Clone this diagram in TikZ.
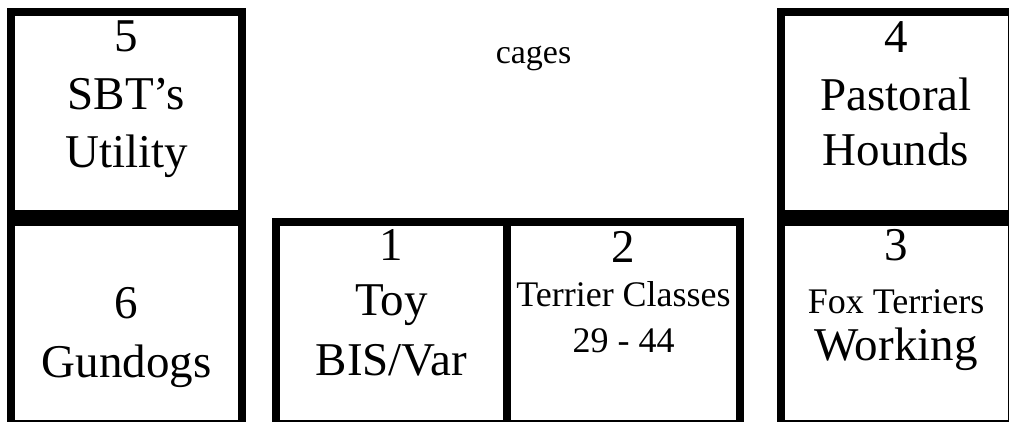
\documentclass[tikz,border=0pt]{standalone}
\usepackage{fontspec}
\setmainfont{Liberation Serif}
\usepackage{tikz}

\newcommand{\classfont}{\fontsize{36}{44}\selectfont}

\tikzset{
    pen/.style={draw=black, line width=8pt, minimum width=231pt, minimum height=202pt, inner sep=0pt},
    big/.style={font=\fontsize{47}{58}\selectfont, align=center, inner sep=0pt, anchor=base}
}

\begin{document}
\begin{tikzpicture}[x=1pt, y=-1pt]
    	% Frame of the plan:
    	\clip (0, 0) rectangle (1009, 421);
    	\fill[white] (0, 0) rectangle (1009, 421);
    	% Rings:
    	\node[pen] (r5) at (126.5, 113) {};
    	\node[pen] (r6) at (126.5, 323) {};
    	\node[pen] (r1) at (391.5, 323) {};
    	\node[pen, minimum width=232.5pt] (r2) at (623.25, 323) {};
    	\node[pen, minimum width=231.5pt] (r4) at (896.25, 113) {};
    	\node[pen, minimum width=231.5pt] (r3) at (896.25, 323) {};
    	% Labels (anchored on the last line):
    	\node[big] (t5) at (126.5, 167) {5\\SBT's\\Utility};
    	\node[big] (t6) at (126.5, 377) {6\\[1pt]Gundogs};
    	\node[big] (t1) at (391.5, 375) {1\\[-3pt]Toy\\[2pt]BIS/Var};
    	\node[big] (t2) at (623.5, 352) {2\\[-14pt]{\classfont Terrier Classes}\\[-12pt]{\classfont 29 - 44}};
    	\node[big] (t4) at (896, 165) {4\\Pastoral\\[-3pt]Hounds};
    	\node[big] (t3) at (896, 360) {3\\[-5pt]{\classfont Fox Terriers}\\[-11pt]Working};
    	\node[font=\fontsize{34}{40}\selectfont, anchor=base] (cages) at (533.5, 63) {cages};
\end{tikzpicture}
\end{document}
